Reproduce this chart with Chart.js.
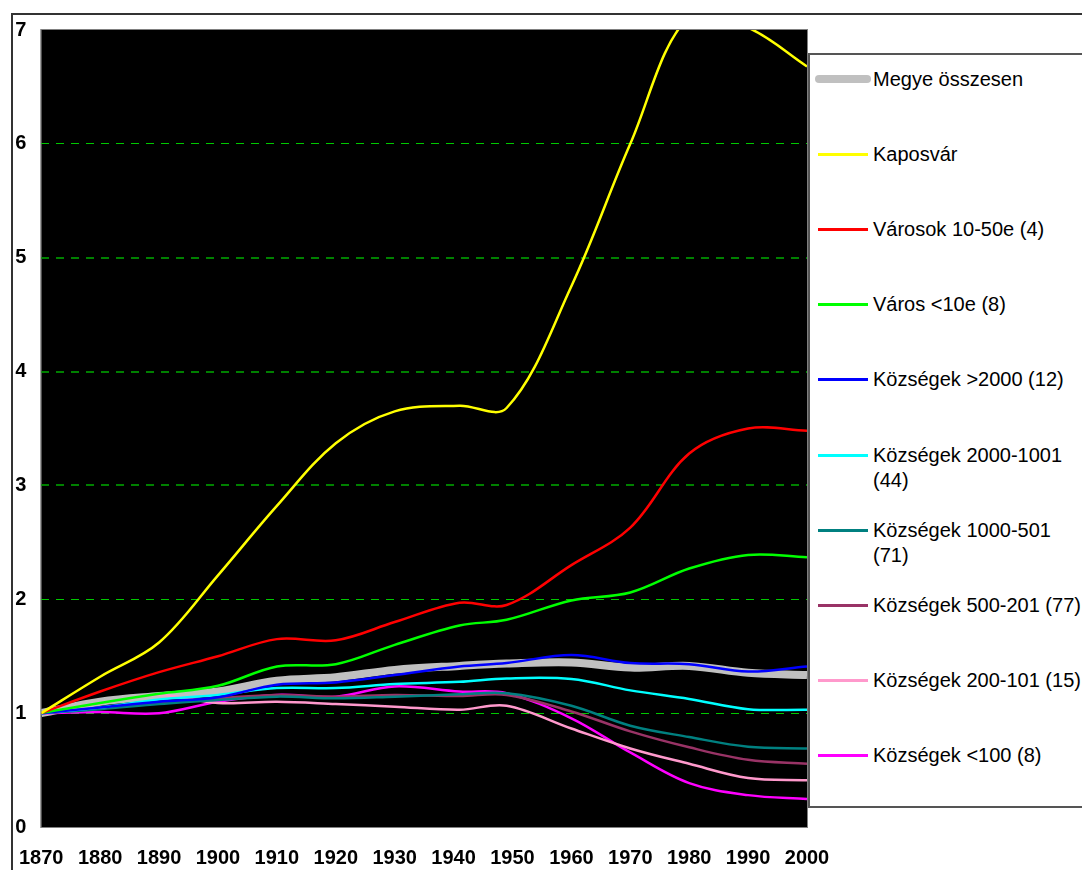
<!DOCTYPE html>
<html>
<head>
<meta charset="utf-8">
<script src="https://cdn.jsdelivr.net/npm/chart.js@4/dist/chart.umd.min.js"></script>
<style>
  body { margin: 0; background: #fff; font-family: "Liberation Sans", Arial, sans-serif; }
  #wrap { position: relative; width: 1082px; height: 870px; overflow: hidden; }
  #frame { position: absolute; left: 11px; top: 13px; width: 1200px; height: 1000px;
           border-left: 2px solid #333; border-top: 2px solid #333; pointer-events: none; }
  #legend { position: absolute; left: 808px; top: 53px; width: 400px; height: 755px;
            border: 2px solid #555; background: #fff; box-sizing: border-box; }
  .swatch { position: absolute; left: 8px; width: 50px; }
  .label { position: absolute; left: 63px; font-size: 20px; line-height: 25px;
           color: #000; white-space: pre; }
</style>
</head>
<body>
<div id="wrap">
  <canvas id="chart" width="1082" height="870"></canvas>
  <div id="frame"></div>
  <div id="legend"></div>
</div>
<script>
/* --------------- Data --------------------- */
const years = [1870, 1880, 1890, 1900, 1910, 1920, 1930, 1941, 1949, 1960, 1970, 1980, 1990, 2000];

const megye    = [1.0, 1.10, 1.15, 1.19, 1.285, 1.315, 1.38, 1.415, 1.435, 1.445, 1.40, 1.415, 1.355, 1.335];
const kaposvar = [1.0, 1.32, 1.62, 2.21, 2.82, 3.37, 3.65, 3.70, 3.68, 4.75, 6.0, 7.12, 7.02, 6.68];
const varosok  = [1.0, 1.19, 1.36, 1.50, 1.65, 1.64, 1.80, 1.97, 1.95, 2.30, 2.63, 3.28, 3.50, 3.48];
const varos10  = [1.0, 1.09, 1.17, 1.24, 1.41, 1.43, 1.60, 1.77, 1.82, 1.99, 2.06, 2.27, 2.39, 2.37];
const kozs2000 = [1.0, 1.05, 1.10, 1.14, 1.25, 1.27, 1.335, 1.41, 1.44, 1.51, 1.44, 1.43, 1.365, 1.41];
const kozs1001 = [1.0, 1.05, 1.12, 1.16, 1.22, 1.22, 1.255, 1.275, 1.305, 1.30, 1.20, 1.125, 1.035, 1.03];
const kozs501  = [1.0, 1.035, 1.08, 1.115, 1.145, 1.13, 1.145, 1.165, 1.175, 1.065, 0.89, 0.79, 0.705, 0.69];
const kozs201  = [1.0, 1.04, 1.095, 1.13, 1.16, 1.145, 1.16, 1.15, 1.16, 1.015, 0.84, 0.70, 0.59, 0.555];
const kozs101  = [1.0, 1.085, 1.16, 1.09, 1.10, 1.08, 1.057, 1.03, 1.065, 0.865, 0.69, 0.555, 0.43, 0.41];
const kozs100  = [1.0, 1.01, 1.0, 1.10, 1.16, 1.145, 1.235, 1.19, 1.175, 0.955, 0.655, 0.385, 0.28, 0.245];

const seriesNames = [
  "Megye összesen", "Kaposvár", "Városok 10-50e (4)", "Város <10e (8)",
  "Községek >2000 (12)", "Községek 2000-1001\n(44)", "Községek 1000-501\n(71)",
  "Községek 500-201 (77)", "Községek 200-101 (15)", "Községek <100 (8)"
];
const seriesValues = [megye, kaposvar, varosok, varos10, kozs2000, kozs1001, kozs501, kozs201, kozs101, kozs100];
const seriesColors = ["#c0c0c0", "#ffff00", "#ff0000", "#00ff00", "#0000ff",
                      "#00ffff", "#008080", "#993366", "#ff99cc", "#ff00ff"];

/* --------------- Plot background and border --------------------- */
const plotBox = {
  id: "plotBox",
  beforeDraw(chart) {
    const a = chart.chartArea, ctx = chart.ctx;
    ctx.save();
    ctx.fillStyle = "#000";
    ctx.fillRect(a.left, a.top, a.right - a.left, a.bottom - a.top);
    ctx.restore();
  },
  afterDraw(chart) {
    const a = chart.chartArea, ctx = chart.ctx;
    ctx.save();
    ctx.strokeStyle = "#808080";
    ctx.lineWidth = 1;
    ctx.strokeRect(a.left - 0.5, a.top - 0.5, a.right - a.left + 1, a.bottom - a.top + 1);
    ctx.restore();
  }
};

/* --------------- Chart --------------------- */
const datasets = seriesValues.map((vals, i) => ({
  label: seriesNames[i],
  data: vals.map((v, j) => ({ x: years[j], y: v })),
  borderColor: seriesColors[i],
  borderWidth: i === 0 ? 8 : 2.5,
  order: i === 0 ? 10 : 0,
  pointRadius: 0,
  tension: 0.35,
  fill: false
}));

const tickFont = { family: "'Liberation Sans', Arial, sans-serif", size: 20, weight: "bold" };

const gridColor = (c) => {
  const v = c.tick.value;
  if (v === 0 || v === 7) return "rgba(0,0,0,0)";
  return (v >= 3 && v <= 5) ? "#008000" : "#00c800";
};

new Chart(document.getElementById("chart"), {
  type: "line",
  data: { datasets },
  plugins: [plotBox],
  options: {
    responsive: false,
    animation: false,
    layout: { padding: { left: 14, top: 30, right: 275, bottom: 0 } },
    plugins: { legend: { display: false }, tooltip: { enabled: false } },
    scales: {
      x: {
        type: "linear",
        min: 1870,
        max: 2000,
        grid: { display: false, drawTicks: false },
        border: { display: false },
        ticks: { stepSize: 10, color: "#000", font: tickFont, padding: 19, maxRotation: 0,
                 callback: (v) => String(v) },
        afterFit: (s) => { s.height = 43; }
      },
      y: {
        min: 0,
        max: 7,
        grid: {
          drawTicks: false,
          color: gridColor,
          lineWidth: (c) => (c.tick.value >= 3 && c.tick.value <= 5) ? 2 : 1
        },
        border: { display: false, dash: [8, 7] },
        ticks: { stepSize: 1, color: "#000", font: tickFont, crossAlign: "far", padding: 0 },
        afterFit: (s) => { s.width = 26; }
      }
    }
  }
});

/* --------------- Legend --------------------- */
const legend = document.getElementById("legend");
seriesNames.forEach((name, i) => {
  const cy = 24 + i * 75.2;
  const sw = document.createElement("div");
  sw.className = "swatch";
  const h = i === 0 ? 8 : 3;
  sw.style.top = (cy - h / 2) + "px";
  sw.style.height = h + "px";
  sw.style.background = seriesColors[i];
  if (i === 0) { sw.style.borderRadius = "4px"; sw.style.left = "5px"; sw.style.width = "56px"; }
  legend.appendChild(sw);
  const lb = document.createElement("div");
  lb.className = "label";
  lb.style.top = (cy - 12.5) + "px";
  lb.textContent = name;
  legend.appendChild(lb);
});
</script>
</body>
</html>
